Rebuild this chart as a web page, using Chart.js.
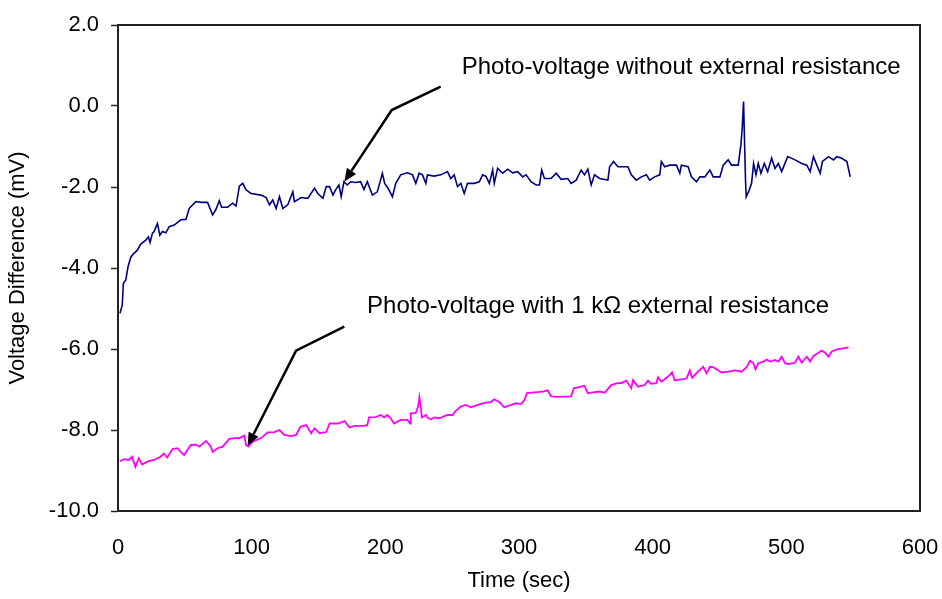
<!DOCTYPE html>
<html>
<head>
<meta charset="utf-8">
<script src="https://cdn.jsdelivr.net/npm/chart.js@4.4.1/dist/chart.umd.min.js"></script>
<style>
  body { margin: 0; background: #fff; }
  canvas { display: block; }
</style>
</head>
<body>
<canvas id="chart" width="942" height="599"></canvas>
<script>
// time (sec) and voltage difference (mV)
const blueTime = [1.5, 3.2, 4, 5.8, 7.5, 9.5, 11.5, 14.5, 17, 20.8, 22.8, 24, 25.8, 27, 29.5, 31.3, 33.2, 35.8, 38.3, 42, 47, 50.8, 53.3, 55, 58.3, 62.5, 67, 70.8, 73.3, 75.8, 77.5, 82, 85.8, 88.3, 90.8, 93.3, 95.8, 99.5, 107, 110.8, 113.3, 115.8, 118.3, 120.8, 123.3, 127, 130.8, 132, 137, 142, 147, 149.5, 153.3, 155.8, 158.3, 160.8, 162.8, 165.3, 167, 169, 171.5, 174, 177.8, 181.5, 184, 186.5, 190.3, 194, 197.8, 199.5, 202, 205.3, 207.8, 211.5, 216.5, 220.3, 222.8, 225.3, 227.8, 230.3, 231.5, 236.5, 241.5, 246.5, 249, 251.5, 254, 256.5, 259, 261.5, 266.5, 270.3, 272.8, 275.3, 277.8, 280.3, 281.5, 284, 287.8, 291.5, 295.3, 299, 302.8, 305.3, 309, 312.8, 315.3, 317, 319, 324, 327.8, 331.5, 336.5, 339, 342.8, 346.5, 349, 351.5, 354, 356.5, 360.3, 366.5, 367.8, 370.8, 374, 381.5, 384, 387.8, 391.5, 395.3, 397.8, 401.5, 405.3, 406.5, 409, 412.8, 417.8, 420.3, 421.5, 426.5, 429, 432.8, 435.3, 439, 442.8, 445.3, 450.3, 452.8, 456.5, 459, 464, 466, 467, 468, 468.8, 469.5, 470, 472.3, 474, 475.5, 477.3, 479, 481, 483.5, 486, 489, 491.5, 494, 496.5, 501, 506.5, 511.5, 515.3, 517.8, 520.3, 522.8, 525.3, 527, 531.5, 535.3, 537.8, 541.5, 545.3, 547.8];
const blueVolt = [-5.12, -4.91, -4.38, -4.30, -3.97, -3.74, -3.65, -3.56, -3.41, -3.31, -3.23, -3.37, -3.14, -3.10, -2.90, -3.19, -3.10, -3.13, -2.98, -2.94, -2.81, -2.80, -2.53, -2.47, -2.36, -2.38, -2.38, -2.69, -2.55, -2.34, -2.50, -2.50, -2.40, -2.47, -1.98, -1.91, -2.07, -2.16, -2.20, -2.26, -2.44, -2.32, -2.53, -2.24, -2.53, -2.44, -2.12, -2.36, -2.26, -2.28, -2.03, -2.16, -2.28, -1.99, -1.99, -2.20, -2.07, -1.95, -2.24, -1.87, -1.95, -1.87, -1.89, -1.87, -2.06, -1.87, -2.20, -2.12, -1.66, -1.91, -2.03, -2.24, -1.91, -1.70, -1.65, -1.70, -1.91, -1.66, -1.70, -1.91, -1.70, -1.73, -1.70, -1.62, -1.79, -1.70, -1.99, -1.91, -2.16, -1.91, -1.91, -1.87, -1.70, -1.74, -1.91, -1.58, -1.91, -1.54, -1.66, -1.56, -1.65, -1.62, -1.75, -1.70, -1.87, -1.95, -1.95, -1.58, -1.79, -1.79, -1.66, -1.81, -1.79, -1.91, -1.83, -1.58, -1.70, -1.56, -1.95, -1.70, -1.79, -1.83, -1.50, -1.37, -1.50, -1.50, -1.70, -1.83, -1.75, -1.70, -1.83, -1.75, -1.70, -1.37, -1.50, -1.46, -1.46, -1.66, -1.46, -1.50, -1.75, -1.87, -1.75, -1.75, -1.58, -1.75, -1.75, -1.46, -1.33, -1.46, -1.46, -0.96, -0.55, 0.11, -0.96, -1.87, -2.24, -2.07, -1.91, -1.42, -1.70, -1.42, -1.66, -1.42, -1.62, -1.29, -1.54, -1.42, -1.62, -1.25, -1.33, -1.42, -1.46, -1.62, -1.25, -1.46, -1.66, -1.37, -1.25, -1.33, -1.25, -1.29, -1.37, -1.75];

const pinkTime = [1.5, 4.3, 8, 10.5, 13, 15.5, 18, 21.8, 26.8, 31.8, 34.3, 36.8, 40.8, 44.5, 47, 49.5, 54.5, 58.3, 60.8, 65.8, 69.5, 70.8, 74.5, 78.3, 83.3, 87, 90.8, 94.5, 95.8, 97.5, 100.8, 107, 112, 117, 120.8, 124.5, 129.5, 133.3, 136.5, 140.8, 144.5, 147, 150.8, 155.8, 158.3, 164.5, 169.5, 173.3, 177, 183.3, 186.5, 187.8, 192.8, 196.5, 199, 201.5, 204, 206.5, 211.5, 216.5, 218.5, 219, 222.8, 224.5, 225.5, 226.5, 227.3, 230.3, 231.5, 234, 236.5, 240.3, 246.5, 250.3, 252.8, 256.5, 260.3, 264, 269, 274, 279, 281.5, 285.3, 289, 294, 297.8, 301.5, 304, 306, 311.5, 317.8, 321.5, 324, 329, 339, 341, 346.5, 349, 351.5, 355.3, 360.3, 364, 369, 372.8, 376.5, 380.3, 384, 385.3, 389, 394, 396.5, 399, 402.8, 404, 406.5, 411.5, 414.5, 416.5, 421.5, 425.3, 427.8, 429.5, 434, 437.8, 440.3, 442.8, 445.3, 447.8, 451.5, 456.5, 461.5, 466.5, 470.3, 472.8, 475.3, 477, 479, 482.8, 485.3, 487.8, 491.5, 494, 496.5, 499, 501.5, 506.5, 509, 511.5, 515.3, 517.8, 520.3, 524, 526.5, 529, 531.5, 534, 537.8, 541.5, 546.5];
const pinkVolt = [-8.77, -8.72, -8.74, -8.66, -8.91, -8.70, -8.85, -8.78, -8.74, -8.66, -8.58, -8.68, -8.47, -8.45, -8.54, -8.62, -8.37, -8.36, -8.41, -8.27, -8.41, -8.54, -8.45, -8.41, -8.22, -8.20, -8.20, -8.14, -8.37, -8.41, -8.29, -8.20, -8.06, -8.05, -8.00, -8.12, -8.15, -8.12, -7.92, -7.88, -8.08, -7.96, -8.08, -8.05, -7.84, -7.84, -7.78, -7.94, -7.90, -7.90, -7.88, -7.69, -7.68, -7.63, -7.69, -7.63, -7.71, -7.84, -7.75, -7.75, -7.84, -7.59, -7.58, -7.42, -7.19, -7.42, -7.69, -7.63, -7.69, -7.74, -7.69, -7.71, -7.63, -7.63, -7.52, -7.42, -7.38, -7.44, -7.38, -7.33, -7.31, -7.24, -7.31, -7.44, -7.38, -7.34, -7.36, -7.26, -7.09, -7.07, -7.05, -7.02, -7.17, -7.18, -7.17, -6.97, -6.93, -6.91, -7.09, -7.07, -7.05, -7.08, -6.89, -6.85, -6.84, -6.78, -6.97, -6.77, -6.93, -6.89, -6.78, -6.86, -6.84, -6.70, -6.81, -6.68, -6.58, -6.77, -6.75, -6.73, -6.53, -6.71, -6.56, -6.44, -6.60, -6.44, -6.45, -6.50, -6.58, -6.56, -6.53, -6.56, -6.45, -6.29, -6.35, -6.50, -6.35, -6.31, -6.26, -6.31, -6.27, -6.31, -6.19, -6.35, -6.37, -6.34, -6.19, -6.34, -6.19, -6.31, -6.17, -6.09, -6.04, -6.09, -6.19, -6.06, -6.01, -5.99, -5.96];

// callout labels and their arrows, in data units (time, mV)
const labels = ["Photo-voltage without external resistance", "Photo-voltage with 1 k\u03A9 external resistance"];
const labelPos = [[257.1, 0.79], [186.3, -5.12]];
const arrowPaths = [
    [[241.4, 0.48], [204.8, -0.10], [169.3, -1.87]],
    [[169.3, -5.45], [133.2, -6.04], [97.0, -8.39]]
];

const FONT = "'Liberation Sans', Arial, sans-serif";

const framePlugin = {
    id: 'frame',
    afterDatasetsDraw(chart) {
        const a = chart.chartArea;
        const ctx = chart.ctx;
        ctx.save();
        ctx.strokeStyle = '#222';
        ctx.lineWidth = 2;
        ctx.strokeRect(a.left, a.top, a.right - a.left, a.bottom - a.top);
        ctx.restore();
    }
};

const calloutPlugin = {
    id: 'callouts',
    afterDraw(chart) {
        const ctx = chart.ctx;
        const xs = chart.scales.x, ys = chart.scales.y;
        ctx.save();
        ctx.fillStyle = '#000';
        ctx.font = '24px ' + FONT;
        ctx.textBaseline = 'alphabetic';
        labels.forEach((t, i) => {
            ctx.fillText(t, xs.getPixelForValue(labelPos[i][0]), ys.getPixelForValue(labelPos[i][1]));
        });
        ctx.strokeStyle = '#000';
        ctx.lineWidth = 2.5;
        arrowPaths.forEach(path => {
            const pts = path.map(p => [xs.getPixelForValue(p[0]), ys.getPixelForValue(p[1])]);
            const n = pts.length;
            const tip = pts[n - 1], prev = pts[n - 2];
            const ang = Math.atan2(tip[1] - prev[1], tip[0] - prev[0]);
            const len = 13, half = 5.5;
            const bx = tip[0] - len * Math.cos(ang), by = tip[1] - len * Math.sin(ang);
            ctx.beginPath();
            ctx.moveTo(pts[0][0], pts[0][1]);
            for (let k = 1; k < n - 1; k++) ctx.lineTo(pts[k][0], pts[k][1]);
            ctx.lineTo(bx, by);
            ctx.stroke();
            ctx.beginPath();
            ctx.moveTo(tip[0], tip[1]);
            ctx.lineTo(bx + half * Math.sin(ang), by - half * Math.cos(ang));
            ctx.lineTo(bx - half * Math.sin(ang), by + half * Math.cos(ang));
            ctx.closePath();
            ctx.fill();
        });
        ctx.restore();
    }
};

new Chart(document.getElementById('chart'), {
    type: 'line',
    data: {
        datasets: [
            {
                label: 'without external resistance',
                data: blueTime.map((t, i) => ({ x: t, y: blueVolt[i] })),
                borderColor: '#000080',
                borderWidth: 1.6,
                pointRadius: 0,
                tension: 0,
                fill: false
            },
            {
                label: 'with 1 kΩ external resistance',
                data: pinkTime.map((t, i) => ({ x: t, y: pinkVolt[i] })),
                borderColor: '#FF00FF',
                borderWidth: 1.8,
                pointRadius: 0,
                tension: 0,
                fill: false
            }
        ]
    },
    options: {
        responsive: false,
        animation: false,
        layout: { padding: { top: 25, right: 22, left: 0, bottom: 0 } },
        plugins: { legend: { display: false }, tooltip: { enabled: false } },
        scales: {
            x: {
                type: 'linear',
                min: 0,
                max: 600,
                ticks: { stepSize: 100, color: '#000', font: { family: FONT, size: 22 }, padding: 24, maxRotation: 0 },
                grid: { drawOnChartArea: false, drawTicks: false },
                border: { color: '#222', width: 2 },
                title: { display: true, text: 'Time (sec)', color: '#000', font: { family: FONT, size: 22 }, padding: { top: 0, bottom: 5 } },
                afterFit(scale) {
                    scale.height = 88;
                    scale.paddingLeft = 0;
                    scale.paddingRight = 0;
                }
            },
            y: {
                min: -10,
                max: 2,
                ticks: { stepSize: 2, color: '#000', font: { family: FONT, size: 22 }, padding: 12, callback: v => v.toFixed(1) },
                grid: { drawOnChartArea: false, tickLength: 7, tickColor: '#222', tickWidth: 1.5 },
                border: { color: '#222', width: 2 },
                title: { display: true, text: 'Voltage Difference (mV)', color: '#000', font: { family: FONT, size: 22 }, padding: { top: 5, bottom: 0 } },
                afterFit(scale) {
                    scale.width = 118;
                    scale.paddingTop = 0;
                    scale.paddingBottom = 0;
                }
            }
        }
    },
    plugins: [framePlugin, calloutPlugin]
});
</script>
</body>
</html>
